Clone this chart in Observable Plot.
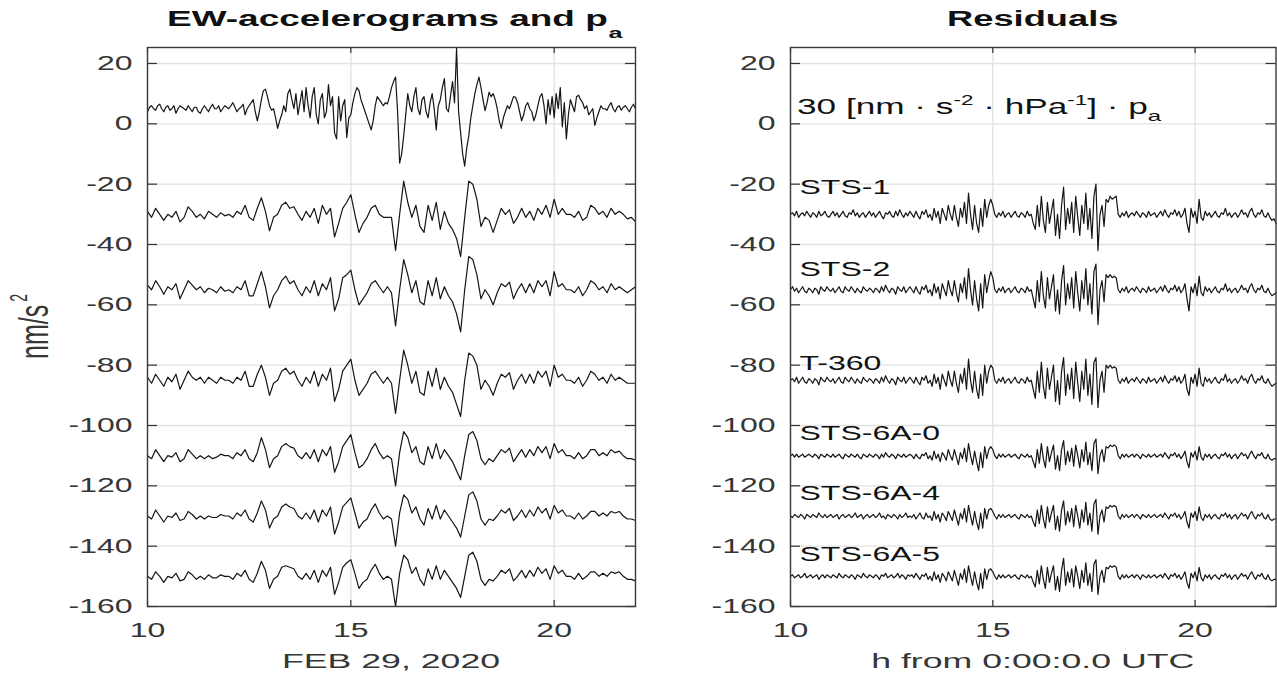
<!DOCTYPE html>
<html><head><meta charset="utf-8">
<script src="https://cdn.jsdelivr.net/npm/d3@7"></script>
<script src="https://cdn.jsdelivr.net/npm/@observablehq/plot@0.6"></script>
<style>
body{margin:0;background:#fff;}
#wrap{position:relative;width:1277px;height:676px;overflow:hidden;background:#fff;}
#wrap svg{position:absolute;top:0;}
</style></head><body><div id="wrap"></div>
<script>
// sample times (hours from 0:00 UTC, FEB 29 2020)
const hours = d3.range(121).map(i => 10 + i / 10);      // 0.1 h spacing
const hoursFine = d3.range(241).map(i => 10 + i / 20);  // 0.05 h spacing
const xTicks = [10, 15, 20];
const yTicks = [-160, -140, -120, -100, -80, -60, -40, -20, 0, 20];

// left panel: 30 nm/s^2/hPa * air pressure (0.05 h spacing)
const accPa = [4,5.5,6,5,4.5,6,6.5,5,4,5.5, 6,4.5,5,6,3.5,5,6,5.5,5,4.5,
  6,5,4,5.5,5.5,4,3.5,5,6,5, 4,5.5,6.5,5,5,6,4,5,6,5.5,
  5,6,7,5.5,4,5,5.5,6.5,3,5, 6,7,8,4,1,4,8,11,11.5,9,
  6,4.5,5,2,-1.5,1,3,6,4,10, 11.5,8,5,10,3,7,11,4,12,6,
  2,9,12,3,0,8,10,2,4,13, 6,9,-3,-5,9,1,6,8,-4.5,2,
  3,7,10,12,11,8,6,4,2,0, -2,1,6,9,8,7,6,7,6.6,9,
  12,14,15.5,4,-13,-10,-4,3,10,6, 4,9,12,5,3,8,9,4,2,7,
  10,5,-2,6,8,12,15,5,4,9, 14,7,25,4,-3,-10,-14,-8,-4,2,
  6,10,13,15.5,12,8,4.4,7,10.5,9, 10,8,5,1,-1.5,2,4,6,5,7,
  9,8.8,7,4,1,3,6,7,5,4, 1,3,6,9,10,6,0,8,3,9,
  2,10,5,12,-1,7,-5,3,8,6, 4,9,9.5,8,7,5,6,3,4,5,
  -0.5,2,4,6,5,5,4.5,6,7,5, 4,5.5,6,4.5,5.5,6,5,4,5.5,6.5, 5];
// left panel: EW accelerograms with offsets (0.1 h spacing)
const accSTS1 = [-29,-31,-28,-30,-32,-30,-31,-29,-32.5,-31, -27.5,-29,-31,-30,-31.5,-29,-30,-31,-29.5,-30.5, -30,-31,-29,-30,-27,-31,-32,-28,-24.5,-29, -35.5,-31,-30,-27,-26,-28,-27.5,-30,-32,-29, -31,-28,-33,-27,-30,-28,-37.5,-33,-28,-26, -23.5,-30,-36,-33,-31,-28,-27,-30,-31,-31, -31,-42,-30,-19,-26,-31,-27,-34,-36,-27, -32,-26,-35,-29,-33,-35,-38,-44,-31,-19, -20,-25,-34,-31,-32,-36,-32,-28,-30,-28.5, -33,-31,-28,-31,-29,-32,-28,-30,-27,-31, -25,-30,-28,-30,-30,-31,-29,-32,-31,-27, -28,-30,-29,-31,-28,-30,-29,-30,-31.5,-31, -32.5];
const accSTS2 = [-53.5,-55,-52,-54,-56.5,-54,-55,-53,-58,-55, -52,-53.5,-55,-54,-56,-54.5,-55,-56,-54,-55.5, -55,-56,-54,-55,-52,-57,-57,-53,-49,-54, -61,-57,-55,-52,-50.5,-53,-52,-55,-57,-54, -56,-52,-57,-53,-55,-51,-62,-58,-51,-50, -48.5,-55,-60,-58,-56,-53,-52,-54,-56,-54, -56,-67,-55,-45,-50,-56,-52,-59,-60,-52, -57,-51,-58,-54,-57,-59,-63,-69,-55,-44, -45,-50,-58,-55,-57,-60,-56,-53,-54,-52.5, -58,-55,-53,-56,-53,-56,-52,-54,-52,-57, -49,-54,-53,-55,-55,-56,-54,-57,-55,-52, -53,-55,-54,-56,-53,-55,-54,-55,-56,-55, -54];
const accT360 = [-84,-86,-83,-85,-87,-84,-85.5,-83,-88,-85, -82,-84,-85,-84,-86,-84,-85,-86,-84,-85, -85,-86,-84,-85,-82,-87,-87,-83,-80,-84, -90,-86,-85,-82,-81,-83,-82,-85,-87,-84, -86,-82,-87,-83,-85,-81,-92,-88,-82,-80, -78,-85,-90,-88,-86,-83,-82,-84,-86,-84, -86,-96,-85,-75,-80,-86,-82,-89,-90,-82, -87,-81,-88,-84,-87,-89,-93,-97,-85,-76, -77,-80,-88,-85,-87,-90,-86,-83,-84,-82.5, -88,-85,-83,-86,-83,-86,-82,-84,-82,-87, -80,-84,-83,-85,-85,-86,-84,-87,-85,-82, -83,-85,-84,-86,-83,-85,-84,-85,-86,-86, -86];
const accSTS6A0 = [-110,-111,-108,-110,-112,-110,-110.5,-109,-112,-111, -108,-109.5,-111,-110,-111,-110,-111,-110.5,-109.5,-110, -110,-111,-109,-110,-108,-111,-112,-109,-104,-108, -114,-111,-110,-107,-106,-107,-107.5,-110,-111,-109, -111,-108,-112,-108,-110,-107,-115.5,-112,-107,-105, -103,-109,-114,-113,-111,-108,-106,-109,-111,-110, -111,-120,-109,-102,-104,-109,-107,-112,-113,-107, -111,-106,-111,-108,-110,-112,-115,-118,-110,-103, -102,-105,-111,-113,-111,-112,-110,-108,-109,-107.5, -112,-110,-108,-110.5,-108,-110,-107,-109,-107,-111, -106,-109,-108,-110,-110,-111,-109,-111,-110,-108, -108,-110,-109,-110,-108,-109,-108.5,-110,-111,-111, -111.5];
const accSTS6A4 = [-130,-131,-128,-130,-132,-130,-130.5,-129,-131.5,-131, -128.5,-129.5,-131,-130,-131,-130,-130.5,-130.5,-129.5,-130, -130,-131,-129,-130,-128,-131,-132,-129,-125,-128, -134,-131,-130,-127,-126,-127,-127.5,-130,-131,-129, -131,-128,-132,-128,-130,-127,-136,-132,-127,-125.5, -124,-129,-134,-132,-131,-128,-126,-129,-131,-130, -131,-140,-129,-123,-124.5,-129,-127,-131,-133,-127.5, -131,-126.5,-131,-128,-130,-132,-134,-137,-130,-123, -122,-125,-131,-133,-131,-131.5,-130,-128,-129,-127.5, -131.5,-130,-128,-130.5,-128,-130,-127,-129,-127.5,-131, -126.5,-129,-128,-130,-130,-131,-129,-131,-130,-128.5, -128.5,-130,-129,-130,-128.5,-129,-128.5,-130,-131,-131, -131.5];
const accSTS6A5 = [-150,-151,-148.5,-150,-152,-150,-150.5,-149,-151.5,-151, -148.5,-149.5,-151,-150,-151,-149.5,-150.5,-150.5,-149.5,-150, -150,-151,-149,-150,-148,-151,-152,-149,-145,-148, -154,-151,-150,-147,-146.5,-147,-147.5,-150,-151,-149, -151,-148,-152,-148,-150,-147,-156,-152,-147,-145.5, -144.5,-149,-154,-152,-151,-148,-146,-149,-151,-150, -151,-160,-149,-143,-144.5,-149,-147,-151,-153,-147.5, -151,-146.5,-151,-148,-150,-152,-154,-157,-150,-143, -142,-145,-151,-153,-151,-151.5,-150,-148,-149,-147.5, -151.5,-150,-148,-150.5,-148,-150,-147,-149,-147.5,-151, -146.5,-149,-148,-150,-150,-151,-149,-151,-150,-148.5, -148.5,-150,-149,-150,-148.5,-149,-148.5,-150,-151,-151, -151.5];

// right panel: residuals with offsets (0.05 h spacing)
const resSTS1 = [-30,-29.5,-30.5,-29,-31,-30,-29.5,-30.5,-29,-30, -31,-29.5,-30,-31,-29,-30.5,-30,-29,-30.5,-31,
  -30,-29,-30.5,-29.5,-31,-30,-29,-30.5,-31,-29.5, -30,-28.5,-30.5,-29.5,-31,-30,-29.5,-31,-30,-29,
  -30.5,-29.5,-31,-30,-29,-30.5,-31.5,-29.5,-30,-29, -30.5,-31,-29,-30.5,-28.5,-30,-31,-29.5,-30.5,-29,
  -30,-31,-29,-30.5,-31.5,-29,-30,-28.5,-31,-30, -32,-28,-31,-29,-33,-28,-30,-32,-27,-30,
  -32,-27,-31,-34,-28,-31,-26,-33,-23,-30, -35,-27,-33,-36,-28,-34,-25,-31,-27,-25,
  -27,-30,-31,-29.5,-30.5,-29,-31,-30,-29.5,-31, -30,-29,-30.5,-31,-29.5,-30,-31,-29,-30.5,-30,
  -33,-35,-27,-34,-24,-32,-36,-26,-33,-29, -25,-37,-30,-38,-27,-21,-35,-28,-33,-26,
  -36,-24,-31,-37,-27,-33,-23,-35,-28,-38, -24,-20,-42,-30,-27,-34,-25,-26,-24,-25,
  -24.5,-24,-30,-31,-29.5,-30.5,-29,-31,-30,-29.5, -30.5,-29,-30,-31,-29.5,-30,-31,-29,-30.5,-30,
  -29.5,-31,-30,-29,-30.5,-28.5,-30,-31,-29.5,-30, -28.5,-30.5,-29,-31,-30,-28,-33,-36,-28,-31,
  -29,-33,-25,-31,-32,-29,-30.5,-29.5,-31,-30, -29,-30.5,-31,-29.5,-30,-28,-30.5,-29.5,-31,-30,
  -29.5,-31,-30,-28.5,-30,-29.5,-31,-29,-28,-30, -31,-29.5,-30,-28.5,-30.5,-31,-29.5,-31,-32,-31.5, -33];
const resSTS2 = [-55,-54,-55.5,-54.5,-56,-55,-54,-55.5,-56,-54.5, -55,-56,-54.5,-55,-56.5,-54,-55,-55.5,-54,-55,
  -55.5,-54.5,-56,-55,-54,-55.5,-56,-54,-55,-55.5, -54,-55,-56,-54.5,-55.5,-56,-54,-55,-55.5,-54.5,
  -55,-56,-54.5,-55,-56,-54,-55.5,-53.5,-55,-56, -54.5,-55,-56.5,-54,-55,-55.5,-54,-56,-55,-54,
  -55,-56,-54,-55.5,-56.5,-54,-55,-53.5,-56,-55, -57,-53,-56,-54,-58,-53,-55,-57,-52,-55,
  -57,-52,-56,-59,-53,-56,-51,-58,-48,-55, -60,-52,-58,-62,-53,-61,-50,-56,-52,-49,
  -51,-55,-56,-54.5,-55.5,-54,-56,-55,-54.5,-56, -55,-54,-55.5,-56,-54.5,-55,-56,-54,-55.5,-55,
  -58,-61,-52,-59,-49,-57,-61,-51,-58,-54, -50,-62,-55,-63,-52,-47,-60,-53,-58,-51,
  -61,-49,-56,-62,-52,-58,-48,-60,-53,-63, -49,-46.5,-66.5,-55,-52,-59,-50,-51,-50,-51,
  -50.5,-51,-55,-56,-54.5,-55.5,-54,-56,-55,-54.5, -55.5,-54,-55,-56,-54.5,-55,-56,-54,-55.5,-55,
  -54.5,-56,-55,-54,-55.5,-53.5,-55,-56,-54.5,-55, -53.5,-55.5,-54,-56,-55,-53,-58,-62,-54,-56,
  -53,-57,-50.5,-56,-57,-54,-55.5,-54.5,-56,-55, -54,-55.5,-56,-54.5,-55,-53,-55.5,-54.5,-56,-55,
  -54.5,-56,-55,-53.5,-55,-54.5,-56,-54,-53,-55, -56,-54.5,-55,-53.5,-55.5,-56,-54.5,-56,-57,-56.5, -56];
const resT360 = [-85,-84.5,-85.5,-84,-86,-85,-84,-85.5,-86,-84.5, -85,-86,-84.5,-85,-86.5,-84,-85,-85.5,-84,-85,
  -85.5,-84.5,-86,-85,-84,-85.5,-86,-84,-85,-85.5, -84,-85,-86,-84.5,-85.5,-86,-84,-85,-85.5,-84.5,
  -85,-86,-84.5,-85,-86,-84,-85.5,-83.5,-85,-86, -84.5,-85,-86.5,-84,-85,-85.5,-84,-86,-85,-84,
  -85,-86,-84,-85.5,-86.5,-84,-85,-83.5,-86,-85, -87,-83,-86,-84,-88,-83,-85,-87,-82,-85,
  -87,-82,-86,-89,-83,-86,-81,-88,-78,-85, -89,-82,-88,-91,-83,-90,-80,-86,-82,-80,
  -81,-85,-86,-84.5,-85.5,-84,-86,-85,-84.5,-86, -85,-84,-85.5,-86,-84.5,-85,-86,-84,-85.5,-85,
  -88,-91,-82,-89,-79,-87,-91,-81,-88,-84, -80,-92,-85,-93,-82,-77.5,-90,-83,-88,-81,
  -91,-79,-86,-92,-82,-88,-78,-90,-83,-93, -79,-77.5,-94,-85,-82,-89,-80,-81,-80,-81,
  -80.5,-81,-85,-86,-84.5,-85.5,-84,-86,-85,-84.5, -85.5,-84,-85,-86,-84.5,-85,-86,-84,-85.5,-85,
  -84.5,-86,-85,-84,-85.5,-83.5,-85,-86,-84.5,-85, -83.5,-85.5,-84,-86,-85,-83,-88,-90,-84,-86,
  -83,-87,-81,-86,-87,-84,-85.5,-84.5,-86,-85, -84,-85.5,-86,-84.5,-85,-83,-85.5,-84.5,-86,-85,
  -84.5,-86,-85,-83.5,-85,-84.5,-86,-84,-83,-85, -86,-84.5,-85,-83.5,-85.5,-86,-84.5,-86,-87,-86.5, -86];
const resSTS6A0 = [-110,-109.5,-110.5,-109.5,-110.5,-110,-109.5,-110.5,-110,-109.5, -110,-110.5,-109.5,-110,-111,-109.5,-110,-110.5,-109.5,-110,
  -110.5,-109.5,-110.5,-110,-109.5,-110.5,-111,-109.5,-110,-110.5, -109.5,-110,-110.5,-109.5,-110.5,-111,-109.5,-110,-110.5,-109.5,
  -110,-110.5,-109.5,-110,-111,-109.5,-110.5,-109,-110,-110.5, -109.5,-110,-111,-109.5,-110,-110.5,-109.5,-110.5,-110,-109.5,
  -110,-111,-109.5,-110.5,-111,-109.5,-110,-109,-111,-110, -111.5,-108.5,-111,-109.5,-112,-109,-110,-111.5,-108,-110,
  -111.5,-108,-110.5,-113,-109,-111,-107.5,-112,-106,-110, -113,-108.5,-112,-115,-109,-114,-107,-111,-108,-107,
  -108,-110,-111,-109.5,-110.5,-109.5,-110.5,-110,-109.5,-110.5, -110,-109.5,-110.5,-111,-109.5,-110,-110.5,-109.5,-110.5,-110,
  -112,-114,-108,-112.5,-106,-111,-114,-107,-112,-109, -106.5,-114.5,-110,-115,-108,-105,-113,-108.5,-112,-107.5,
  -113.5,-106.5,-110,-114,-108,-112,-105.5,-113,-109,-115, -106,-104.5,-116,-110,-108,-112,-107,-107.5,-106.5,-107,
  -106.5,-107,-110,-111,-109.5,-110.5,-109.5,-110.5,-110,-109.5, -110.5,-109.5,-110,-111,-109.5,-110,-110.5,-109.5,-110.5,-110,
  -109.5,-110.5,-110,-109.5,-110.5,-109,-110,-111,-109.5,-110, -109,-110.5,-109.5,-111,-110,-108.5,-112,-114,-109,-110.5,
  -108.5,-111.5,-107,-110.5,-111.5,-109.5,-110.5,-109.5,-111,-110, -109.5,-110.5,-111,-109.5,-110,-109,-110.5,-109.5,-111,-110,
  -109.5,-111,-110,-109,-110,-109.5,-111,-109.5,-108.5,-110, -111,-109.5,-110,-109,-110.5,-111,-109.5,-111,-111.5,-111, -111];
const resSTS6A4 = [-130,-130.5,-129.5,-130,-130.5,-129.5,-130,-131,-129.5,-130, -130.5,-129.5,-130,-130.5,-129,-130,-130.5,-129.5,-130.5,-130,
  -129.5,-130.5,-130,-129.5,-131,-130,-129.5,-130.5,-130,-129.5, -130.5,-130,-129,-130.5,-130,-129.5,-131,-130,-129.5,-130.5,
  -130,-129.5,-130.5,-130,-129,-130.5,-130,-131,-129.5,-130, -130.5,-129.5,-130,-131,-129.5,-130.5,-130,-129,-130.5,-130,
  -130.5,-129.5,-131,-130,-129,-130.5,-131,-129,-130.5,-130, -131.5,-128.5,-131,-129.5,-132,-129,-130,-131.5,-128.5,-130,
  -131.5,-128,-130.5,-133,-129,-131,-127.5,-132,-126.5,-130, -133,-128.5,-132,-134.5,-129,-134,-127.5,-131,-128,-127.5,
  -128.5,-130,-131,-129.5,-130.5,-129.5,-130.5,-130,-129.5,-130.5, -130,-129.5,-130.5,-131,-129.5,-130,-130.5,-129.5,-130.5,-130,
  -132,-133.5,-128,-132.5,-126.5,-131,-134,-127,-132,-129, -126.5,-134.5,-130,-135,-128,-125,-133,-128.5,-132,-127.5,
  -133.5,-126.5,-130,-134,-128,-132,-125.5,-133,-129,-135, -126,-124.5,-136,-130,-128,-132,-127,-127.5,-126.5,-127,
  -126.5,-127,-130,-131,-129.5,-130.5,-129.5,-130.5,-130,-129.5, -130.5,-129.5,-130,-131,-129.5,-130,-130.5,-129.5,-130.5,-130,
  -129.5,-130.5,-130,-129.5,-130.5,-129,-130,-131,-129.5,-130, -129,-130.5,-129.5,-131,-130,-128.5,-132,-134,-129,-130.5,
  -128.5,-131.5,-127,-130.5,-131.5,-129.5,-130.5,-129.5,-131,-130, -129.5,-130.5,-131,-129.5,-130,-129,-130.5,-129.5,-131,-130,
  -129.5,-131,-130,-129,-130,-129.5,-131,-129.5,-128.5,-130, -131,-129.5,-130,-129,-130.5,-131,-129.5,-131,-131.5,-131, -131];
const resSTS6A5 = [-150,-149.5,-150.5,-150,-149.5,-150.5,-150,-149,-150.5,-150, -149.5,-150.5,-150,-149.5,-151,-150,-149.5,-150.5,-149.5,-150,
  -150.5,-149.5,-150,-150.5,-149,-150,-150.5,-149.5,-150,-150.5, -149.5,-150,-151,-149.5,-150,-150.5,-149,-150,-150.5,-149.5,
  -150,-150.5,-149.5,-150,-151,-149.5,-150,-149,-150.5,-150, -149.5,-150.5,-150,-149,-150.5,-149.5,-150,-151,-149.5,-150,
  -149.5,-150.5,-149,-150,-151,-149.5,-150,-149,-151,-150, -151.5,-148.5,-151,-149.5,-152,-149,-150,-151.5,-148.5,-150,
  -151.5,-148,-150.5,-153,-149,-151,-147.5,-152,-146.5,-150, -153,-148.5,-152,-154.5,-149,-154,-147.5,-151,-148,-147.5,
  -148.5,-150,-151,-149.5,-150.5,-149.5,-150.5,-150,-149.5,-150.5, -150,-149.5,-150.5,-151,-149.5,-150,-150.5,-149.5,-150.5,-150,
  -152,-153.5,-148,-152.5,-146.5,-151,-154,-147,-152,-149, -146.5,-154.5,-150,-155,-148,-144,-153,-148.5,-152,-147.5,
  -153.5,-146.5,-150,-154,-148,-152,-145.5,-153,-149,-155, -146,-144.5,-156,-150,-148,-152,-147,-147.5,-146.5,-147,
  -146.5,-147,-150,-151,-149.5,-150.5,-149.5,-150.5,-150,-149.5, -150.5,-149.5,-150,-151,-149.5,-150,-150.5,-149.5,-150.5,-150,
  -149.5,-150.5,-150,-149.5,-150.5,-149,-150,-151,-149.5,-150, -149,-150.5,-149.5,-151,-150,-148.5,-152,-154,-149,-150.5,
  -148.5,-151.5,-147,-150.5,-151.5,-149.5,-150.5,-149.5,-151,-150, -149.5,-150.5,-151,-149.5,-150,-149,-150.5,-149.5,-151,-150,
  -149.5,-151,-150,-149,-150,-149.5,-151,-149.5,-148.5,-150, -151,-149.5,-150,-149,-150.5,-151,-149.5,-151,-151.5,-151, -151];

const leftNames = ["p_a", "STS-1", "STS-2", "T-360", "STS-6A-0", "STS-6A-4", "STS-6A-5"];
const leftArrays = [accPa, accSTS1, accSTS2, accT360, accSTS6A0, accSTS6A4, accSTS6A5];
const rightNames = ["STS-1", "STS-2", "T-360", "STS-6A-0", "STS-6A-4", "STS-6A-5"];
const rightArrays = [resSTS1, resSTS2, resT360, resSTS6A0, resSTS6A4, resSTS6A5];
const labelY = [-23.4, -50.3, -81.5, -104.8, -124.8, -144.8];
const paLabelY = 3.1;

function rowsOf(names, arrays) {
  const rows = [];
  names.forEach((n, k) => {
    const t = arrays[k].length === hoursFine.length ? hoursFine : hours;
    arrays[k].forEach((v, i) => rows.push({h: t[i], v, s: n}));
  });
  return rows;
}

const FONT = "'Liberation Sans', Arial, Helvetica, sans-serif";
const H = 676, MT = 47, MB = 70;
const STRETCH = 1.6;

function panel({width, marginLeft, marginRight, rows, extra = []}) {
  const fw = width - marginLeft - marginRight, fh = H - MT - MB;
  const tickStyle = {stroke: "#333", strokeWidth: 1.2};
  return Plot.plot({
    width, height: H, marginLeft, marginRight, marginTop: MT, marginBottom: MB,
    x: {domain: [10, 22]},
    y: {domain: [-160, 25.3]},
    style: {fontFamily: FONT, fontSize: "20px", color: "#363636", background: "transparent", overflow: "visible"},
    marks: [
      Plot.gridX(xTicks, {stroke: "#e1e1e1", strokeOpacity: 1, strokeWidth: 1.3}),
      Plot.gridY(yTicks, {stroke: "#e1e1e1", strokeOpacity: 1, strokeWidth: 1.3}),
      Plot.line(rows, {x: "h", y: "v", z: "s", stroke: "#151515", strokeWidth: 1.2}),
      Plot.ruleY(yTicks, {y: d => d, insetRight: fw - 10, ...tickStyle}),
      Plot.ruleY(yTicks, {y: d => d, insetLeft: fw - 10, ...tickStyle}),
      Plot.ruleX(xTicks, {x: d => d, insetTop: fh - 6, ...tickStyle}),
      Plot.ruleX(xTicks, {x: d => d, insetBottom: fh - 6, ...tickStyle}),
      Plot.frame({stroke: "#3a3a3a", strokeWidth: 1.4}),
      Plot.axisY(yTicks, {anchor: "left", tickSize: 0, tickPadding: 15, tickFormat: d => String(d), label: null, fontSize: 20}),
      Plot.axisX(xTicks, {anchor: "bottom", tickSize: 0, tickPadding: 16, tickFormat: d => String(d), label: null, fontSize: 20}),
      ...extra
    ]
  });
}

function stretch(svg, f) {
  svg.querySelectorAll("text").forEach(t => {
    if (t.closest(".custom")) return;
    const len = t.getComputedTextLength();
    if (len > 0) {
      t.setAttribute("textLength", (len * f).toFixed(1));
      t.setAttribute("lengthAdjust", "spacingAndGlyphs");
    }
  });
}

const wrap = document.getElementById("wrap");

// LEFT
const left = panel({width: 640, marginLeft: 147, marginRight: 5, rows: rowsOf(leftNames, leftArrays)});
left.style.left = "0px";
wrap.appendChild(left);
stretch(left, STRETCH);

// RIGHT
const right = panel({
  width: 637, marginLeft: 150, marginRight: 1.5, rows: rowsOf(rightNames, rightArrays),
  extra: [
    Plot.text(rightNames, {x: () => 10, y: (d, i) => labelY[i], text: d => d, dx: 9, textAnchor: "start", lineAnchor: "bottom", fontSize: 20, fill: "#111"})
  ]
});
right.style.left = "640px";
wrap.appendChild(right);
stretch(right, STRETCH);

function addText(svg, {x, y, anchor = "middle", size = 20, weight = "normal", sx = STRETCH, sy = 1, rotate = 0, parts, fill = "#111"}) {
  const g = d3.select(svg).append("g").attr("class", "custom")
    .attr("transform", `translate(${x},${y}) rotate(${rotate}) scale(${sx},${sy})`);
  const t = g.append("text").attr("text-anchor", anchor).attr("font-family", FONT)
    .attr("font-size", size).attr("font-weight", weight).attr("fill", fill);
  parts.forEach(p => {
    const ts = t.append("tspan").text(p.t);
    if (p.dy) ts.attr("dy", p.dy);
    if (p.dx) ts.attr("dx", p.dx);
    if (p.size) ts.attr("font-size", p.size);
  });
  return t;
}

const lx = left.scale("x"), ly = left.scale("y");
const rx = right.scale("x"), ry = right.scale("y");
const lcx = (lx.apply(10) + lx.apply(22)) / 2;
const rcx = (rx.apply(10) + rx.apply(22)) / 2;
const midY = (ly.apply(-160) + ly.apply(25.3)) / 2;

// titles
addText(left, {x: 167, y: 26, anchor: "start", size: 22, weight: "bold", sx: 1.68,
  parts: [{t: "EW-accelerograms and p"}, {t: "a", dx: 0.5, dy: 12, size: 15}]});
addText(right, {x: rcx, y: 26, size: 22, weight: "bold", sx: 1.65, parts: [{t: "Residuals"}]});

// x labels
addText(left, {x: lcx, y: 668, size: 21, fill: "#363636", sx: 1.7, parts: [{t: "FEB 29, 2020"}]});
addText(right, {x: rcx, y: 668, size: 21, fill: "#363636", sx: 1.7, parts: [{t: "h from 0:00:0.0 UTC"}]});

// y label (rotated; glyphs stretched horizontally on the page)
addText(left, {x: 48, y: midY, size: 25, fill: "#363636", rotate: -90, sx: 1, sy: 1.65,
  parts: [{t: "nm/s"}, {t: "2", dx: 3, dy: -13, size: 14}]});

// pressure label in the residual panel
addText(right, {x: rx.apply(10) + 7, y: ry.apply(paLabelY), anchor: "start", size: 22, sx: 1.6,
  parts: [{t: "30 [nm · s"}, {t: "-2", dy: -9, size: 14}, {t: " · hPa", dy: 9}, {t: "-1", dy: -9, size: 14},
          {t: "] · p", dy: 9}, {t: "a", dy: 7, size: 15}]});
</script>
</body></html>
